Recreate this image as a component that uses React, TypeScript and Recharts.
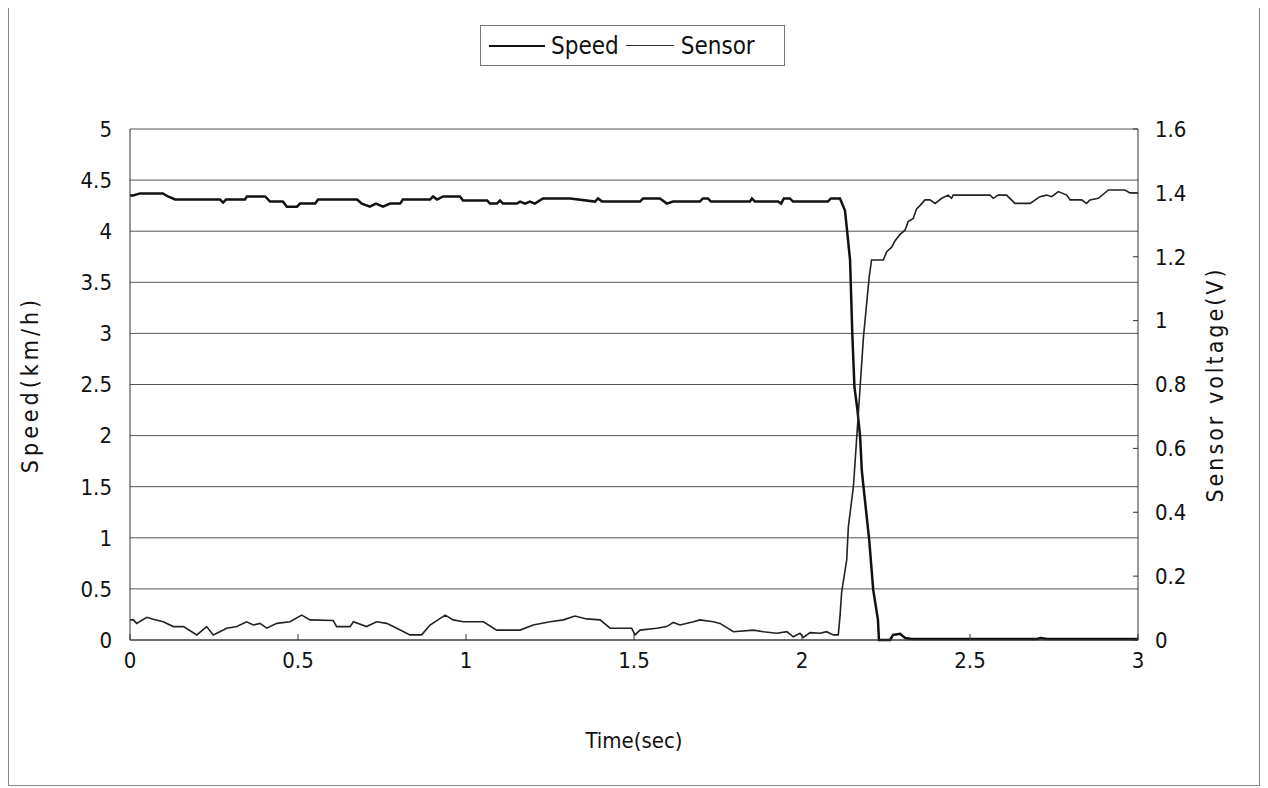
import { LineChart, Line, XAxis, YAxis, CartesianGrid, Legend } from "recharts";

// Time (sec) and values
const speedTime = [
  0, 0.009, 0.03, 0.098, 0.113, 0.134, 0.268, 0.277, 0.286, 0.342, 0.348, 0.402, 0.417, 0.455, 0.467, 0.497,
  0.506, 0.551, 0.56, 0.676, 0.69, 0.714, 0.732, 0.753, 0.774, 0.804, 0.812, 0.893, 0.902, 0.914, 0.932, 0.982,
  0.991, 1.063, 1.071, 1.092, 1.101, 1.11, 1.152, 1.161, 1.176, 1.19, 1.205, 1.229, 1.31, 1.384, 1.393, 1.405,
  1.518, 1.527, 1.577, 1.598, 1.616, 1.696, 1.705, 1.72, 1.729, 1.845, 1.851, 1.86, 1.929, 1.938, 1.946, 1.964,
  1.973, 2.077, 2.086, 2.113, 2.122, 2.128, 2.134, 2.143, 2.15, 2.156, 2.165, 2.173, 2.178, 2.183, 2.2, 2.212,
  2.226, 2.229, 2.262, 2.271, 2.292, 2.307, 2.327, 2.7, 2.71, 2.73, 3,
];
const speedKmh = [
  4.35, 4.35, 4.37, 4.37, 4.34, 4.31, 4.31, 4.28, 4.31, 4.31, 4.34, 4.34, 4.29, 4.29, 4.24, 4.24,
  4.27, 4.27, 4.31, 4.31, 4.27, 4.24, 4.27, 4.24, 4.27, 4.27, 4.31, 4.31, 4.34, 4.31, 4.34, 4.34,
  4.3, 4.3, 4.27, 4.27, 4.3, 4.27, 4.27, 4.29, 4.27, 4.29, 4.27, 4.32, 4.32, 4.29, 4.32, 4.29,
  4.29, 4.32, 4.32, 4.27, 4.29, 4.29, 4.32, 4.32, 4.29, 4.29, 4.32, 4.29, 4.29, 4.27, 4.32, 4.32,
  4.29, 4.29, 4.32, 4.32, 4.25, 4.2, 4.01, 3.72, 2.97, 2.48, 2.25, 1.99, 1.66, 1.5, 0.98, 0.49,
  0.2, 0, 0, 0.05, 0.06, 0.02, 0.01, 0.01, 0.02, 0.01, 0.01,
];

const sensorTime = [
  0, 0.01, 0.02, 0.05, 0.069, 0.099, 0.129, 0.159, 0.199, 0.228, 0.248, 0.288, 0.318, 0.347, 0.367, 0.387,
  0.407, 0.437, 0.476, 0.511, 0.536, 0.605, 0.615, 0.655, 0.665, 0.704, 0.734, 0.764, 0.794, 0.833, 0.868, 0.893,
  0.938, 0.962, 0.992, 1.052, 1.091, 1.161, 1.2, 1.25, 1.29, 1.324, 1.359, 1.399, 1.429, 1.493, 1.503, 1.518,
  1.568, 1.597, 1.617, 1.637, 1.677, 1.696, 1.736, 1.756, 1.796, 1.855, 1.885, 1.925, 1.955, 1.974, 1.994, 2.004,
  2.024, 2.054, 2.073, 2.093, 2.108, 2.113, 2.118, 2.133, 2.138, 2.153, 2.163, 2.173, 2.183, 2.2, 2.207, 2.242,
  2.252, 2.267, 2.277, 2.292, 2.307, 2.316, 2.331, 2.341, 2.351, 2.366, 2.381, 2.396, 2.416, 2.435, 2.445, 2.45,
  2.56, 2.569, 2.584, 2.609, 2.634, 2.679, 2.708, 2.728, 2.743, 2.763, 2.788, 2.798, 2.832, 2.847, 2.857, 2.882,
  2.912, 2.961, 2.976, 3,
];
const sensorVolt = [
  0.063, 0.063, 0.052, 0.071, 0.065, 0.057, 0.042, 0.042, 0.016, 0.042, 0.016, 0.037, 0.042, 0.057, 0.047, 0.052,
  0.037, 0.052, 0.057, 0.078, 0.063, 0.061, 0.042, 0.042, 0.057, 0.042, 0.057, 0.052, 0.037, 0.016, 0.016, 0.047,
  0.078, 0.063, 0.057, 0.057, 0.031, 0.031, 0.047, 0.057, 0.063, 0.075, 0.066, 0.063, 0.037, 0.037, 0.016, 0.031,
  0.037, 0.042, 0.055, 0.047, 0.057, 0.063, 0.057, 0.052, 0.026, 0.031, 0.026, 0.021, 0.026, 0.01, 0.021, 0.008,
  0.023, 0.021, 0.026, 0.016, 0.016, 0.073, 0.15, 0.25, 0.355, 0.48, 0.636, 0.793, 0.95, 1.137, 1.19, 1.19,
  1.216, 1.23, 1.25, 1.27, 1.284, 1.31, 1.32, 1.35, 1.36, 1.378, 1.378, 1.367, 1.383, 1.393, 1.383, 1.393,
  1.393, 1.383, 1.393, 1.393, 1.367, 1.367, 1.388, 1.393, 1.388, 1.404, 1.393, 1.378, 1.378, 1.367, 1.378, 1.383,
  1.409, 1.409, 1.4, 1.4,
];

const timeTicks = [0, 0.5, 1, 1.5, 2, 2.5, 3];
const speedTicks = [0, 0.5, 1, 1.5, 2, 2.5, 3, 3.5, 4, 4.5, 5];
const voltTicks = [0, 0.2, 0.4, 0.6, 0.8, 1, 1.2, 1.4, 1.6];

const speedData = speedTime.map((t, i) => ({ t, speed: speedKmh[i] }));
const sensorData = sensorTime.map((t, i) => ({ t, sensor: sensorVolt[i] }));

const font = "'Liberation Sans Narrow', 'DejaVu Sans Condensed', sans-serif";
const tickStyle = { fill: "#111", fontSize: 22, fontFamily: font };

function LegendBox() {
  return (
    <div
      style={{
        display: "flex",
        alignItems: "center",
        border: "1px solid #777",
        height: 41,
        width: 305,
        boxSizing: "border-box",
        paddingLeft: 8,
        fontFamily: font,
        fontSize: 24,
        color: "#111",
        background: "#fff",
      }}
    >
      <span style={{ display: "inline-block", width: 56, borderTop: "2.5px solid #111", marginRight: 6 }} />
      <span>Speed</span>
      <span style={{ display: "inline-block", width: 48, borderTop: "1.5px solid #333", margin: "0 7px 0 7px" }} />
      <span>Sensor</span>
    </div>
  );
}

export default function App() {
  return (
    <div
      style={{
        width: 1250,
        height: 778,
        border: "1px solid #888",
        marginTop: -2,
        fontFamily: font,
        background: "#fff",
      }}
    >
      <LineChart width={1250} height={778} margin={{ top: 81, right: 41, bottom: 95, left: 41 }}>
        <CartesianGrid yAxisId="left" vertical={false} stroke="#555" strokeWidth={1} />
        <XAxis
          dataKey="t"
          type="number"
          domain={[0, 3]}
          ticks={timeTicks}
          height={50}
          allowDuplicatedCategory={false}
          stroke="#333"
          tickSize={-6}
          tickMargin={18}
          tick={tickStyle}
          label={{
            content: ({ viewBox }: any) => (
              <text
                x={viewBox.x + viewBox.width / 2}
                y={viewBox.y + 108}
                textAnchor="middle"
                fontSize={22}
                fontFamily={font}
                fill="#111"
              >
                Time(sec)
              </text>
            ),
          }}
        />
        <YAxis
          yAxisId="left"
          domain={[0, 5]}
          ticks={speedTicks}
          width={80}
          stroke="#333"
          tickLine={false}
          tickSize={0}
          tickMargin={18}
          tick={tickStyle}
          interval={0}
          label={{
            content: ({ viewBox }: any) => {
              const x = viewBox.x - 20;
              const y = viewBox.y + viewBox.height / 2;
              return (
                <text
                  x={x}
                  y={y}
                  transform={`rotate(-90 ${x} ${y})`}
                  textAnchor="middle"
                  dominantBaseline="central"
                  fontSize={23}
                  letterSpacing={4}
                  fontFamily={font}
                  fill="#111"
                >
                  Speed(km/h)
                </text>
              );
            },
          }}
        />
        <YAxis
          yAxisId="right"
          orientation="right"
          domain={[0, 1.6]}
          ticks={voltTicks}
          width={80}
          stroke="#333"
          tickSize={-5}
          tickMargin={22}
          tick={tickStyle}
          interval={0}
          label={{
            content: ({ viewBox }: any) => {
              const x = viewBox.x + 77;
              const y = viewBox.y + viewBox.height / 2;
              return (
                <text
                  x={x}
                  y={y}
                  transform={`rotate(-90 ${x} ${y})`}
                  textAnchor="middle"
                  dominantBaseline="central"
                  fontSize={23}
                  letterSpacing={3}
                  fontFamily={font}
                  fill="#111"
                >
                  Sensor voltage(V)
                </text>
              );
            },
          }}
        />
        <Legend
          verticalAlign="top"
          content={() => <LegendBox />}
          wrapperStyle={{ top: 18, left: 471, width: 305 }}
        />
        <Line
          yAxisId="left"
          data={speedData}
          dataKey="speed"
          name="Speed"
          type="linear"
          stroke="#111"
          strokeWidth={2.5}
          dot={false}
          isAnimationActive={false}
        />
        <Line
          yAxisId="right"
          data={sensorData}
          dataKey="sensor"
          name="Sensor"
          type="linear"
          stroke="#222"
          strokeWidth={1.6}
          dot={false}
          isAnimationActive={false}
        />
      </LineChart>
    </div>
  );
}
